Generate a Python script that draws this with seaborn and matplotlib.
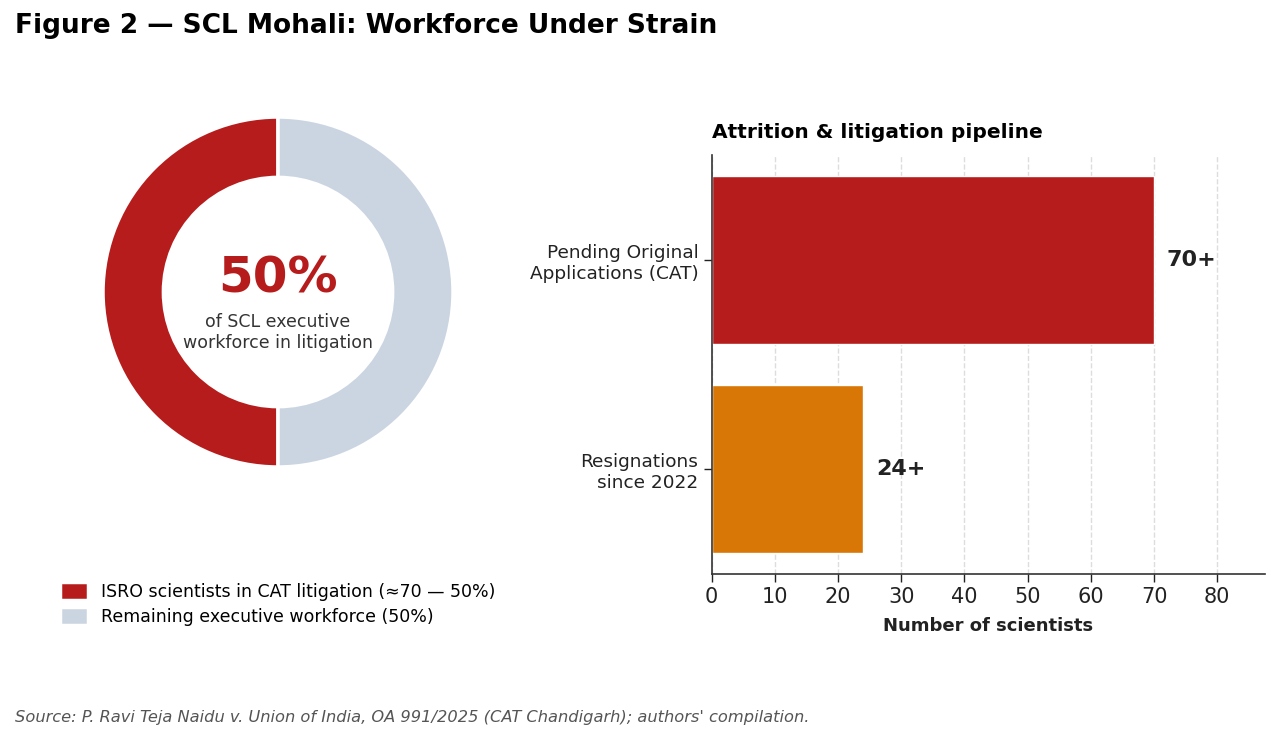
import matplotlib
matplotlib.use("Agg")
import matplotlib.pyplot as plt
import seaborn as sns
import pandas as pd

# data
share_labels = ["ISRO scientists in CAT litigation (\u224870 \u2014 50%)",
                "Remaining executive workforce (50%)"]
share_values = [50, 50]
share_colors = ["#B71C1C", "#CBD5E1"]

bar_labels = ["Pending Original\nApplications (CAT)", "Resignations\nsince 2022"]
bar_values = [70, 24]
bar_text = ["70+", "24+"]
bar_colors = ["#B71C1C", "#D97706"]

sns.set_theme(style="white")
plt.rcParams['font.family'] = ['DejaVu Sans']

fig = plt.figure(figsize=(12.8, 7.4), dpi=100)
fig.text(0.012, 0.965, "Figure 2 \u2014 SCL Mohali: Workforce Under Strain",
         fontsize=19, fontweight="bold", ha="left", va="center", color="black")

# donut
ax1 = fig.add_axes([0.0463, 0.3098, 0.3418, 0.5912])
wedges, _ = ax1.pie(share_values, colors=share_colors, startangle=90, counterclock=True,
                    wedgeprops=dict(width=0.345, edgecolor="white", linewidth=2.5))
ax1.set_aspect("equal")
ax1.text(0, 0.08, "50%", ha="center", va="center", fontsize=36, fontweight="bold", color="#B71C1C")
ax1.text(0, -0.23, "of SCL executive\nworkforce in litigation", ha="center", va="center",
         fontsize=12.5, color="#333333", linespacing=1.2)
fig.legend(wedges, share_labels, loc="upper left", bbox_to_anchor=(0.0345, 0.234),
           frameon=False, fontsize=12.5, handlelength=1.6, handleheight=1.2,
           handletextpad=0.8, labelspacing=0.35, labelcolor="black")

# bars
ax2 = fig.add_axes([0.556, 0.2243, 0.432, 0.5662])
df = pd.DataFrame({"label": bar_labels, "value": bar_values})
sns.barplot(data=df, x="value", y="label", hue="label", palette=bar_colors,
            legend=False, width=0.8, ax=ax2, saturation=1)
ax2.set_xlim(0, max(bar_values) * 1.25)
ax2.set_xticks(range(0, 90, 10))
ax2.xaxis.grid(True, linestyle="--", color="#DDDDDD", linewidth=1)
ax2.set_axisbelow(True)
for s in ["top", "right"]:
    ax2.spines[s].set_visible(False)
for s in ["left", "bottom"]:
    ax2.spines[s].set_color("#333333")
    ax2.spines[s].set_linewidth(1.2)
ax2.tick_params(axis="x", labelsize=15, colors="#222222", length=6, width=1, bottom=True)
ax2.tick_params(axis="y", labelsize=13.3, colors="#222222", length=6, width=1, left=True)
ax2.set_ylabel("")
ax2.set_xlabel("Number of scientists", fontsize=13, fontweight="bold", color="#222222", labelpad=7)
for i, (v, t) in enumerate(zip(bar_values, bar_text)):
    ax2.text(v + 2, i, t, ha="left", va="center", fontsize=16, fontweight="bold", color="#222222")
ax2.set_title("Attrition & litigation pipeline", loc="left", fontsize=14.5, fontweight="bold",
              color="black", pad=12)

fig.text(0.012, 0.031, "Source: P. Ravi Teja Naidu v. Union of India, OA 991/2025 (CAT Chandigarh); authors' compilation.",
         fontsize=11.7, style="italic", color="#555555", ha="left", va="center")

fig.savefig("out.png", dpi=100)
